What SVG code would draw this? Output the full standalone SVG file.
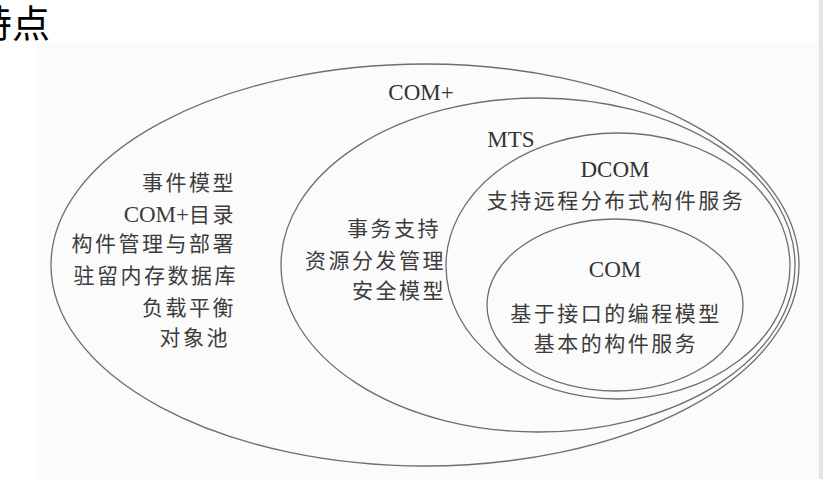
<svg xmlns="http://www.w3.org/2000/svg" width="823" height="479" viewBox="0 0 823 479">
<style>
.ring{fill:none;stroke:#6e6e6e;stroke-width:1.3}
.cn{font-family:"Noto Sans CJK SC","Noto Sans",sans-serif;font-size:21px;letter-spacing:2.5px;fill:#3c3c3c}
.lt{font-family:"Liberation Serif","Noto Sans CJK SC",serif;font-size:23px;fill:#333}
.r{text-anchor:end}
.m{text-anchor:middle}
</style>
<rect x="0" y="0" width="823" height="479" fill="#ffffff"/>
<rect x="36" y="42" width="783" height="437" fill="#fbfbfb"/>
<rect x="819" y="0" width="4" height="479" fill="#e4e4e4"/>
<text x="-26" y="37" style="font-family:'Noto Sans CJK SC','Noto Sans',sans-serif;font-size:38px;fill:#000">特点</text>
<g id="complus">
<ellipse class="ring" cx="425" cy="265" rx="374" ry="201"/>
<text class="lt m" x="421" y="100">COM+</text>
<text class="cn r" x="236" y="190">事件模型</text>
<text class="cn r" x="236" y="222"><tspan style="font-family:'Liberation Serif',serif;font-size:23px;letter-spacing:0">COM+</tspan>目录</text>
<text class="cn r" x="236" y="251">构件管理与部署</text>
<text class="cn r" x="238" y="283">驻留内存数据库</text>
<text class="cn r" x="236" y="315">负载平衡</text>
<text class="cn r" x="230" y="345">对象池</text>
</g>
<g id="mts">
<ellipse class="ring" cx="538" cy="265" rx="257" ry="167"/>
<text class="lt m" x="511" y="147">MTS</text>
<text class="cn r" x="441" y="236">事务支持</text>
<text class="cn r" x="446" y="268">资源分发管理</text>
<text class="cn r" x="446" y="298">安全模型</text>
</g>
<g id="dcom">
<ellipse class="ring" cx="618" cy="266" rx="172" ry="133"/>
<text class="lt m" x="615" y="177">DCOM</text>
<text class="cn m" x="616" y="208">支持远程分布式构件服务</text>
</g>
<g id="com">
<ellipse class="ring" cx="615" cy="305" rx="128" ry="86"/>
<text class="lt m" x="615" y="277">COM</text>
<text class="cn m" x="616" y="321">基于接口的编程模型</text>
<text class="cn m" x="616" y="351">基本的构件服务</text>
</g>
<g id="connectors"></g>
</svg>
